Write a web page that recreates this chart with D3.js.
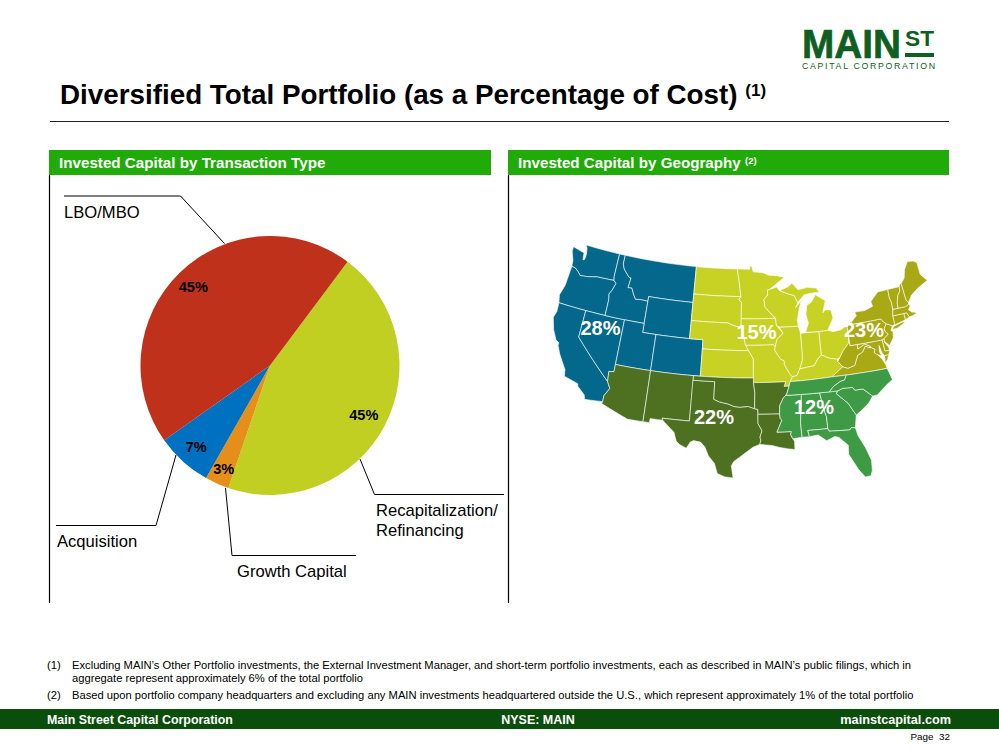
<!DOCTYPE html>
<html>
<head>
<meta charset="utf-8">
<script src="https://d3js.org/d3.v7.min.js"></script>
<style>
  body { margin: 0; background: #fff; }
  text { font-family: "Liberation Sans", Arial, sans-serif; }
</style>
</head>
<body>
<svg id="slide" width="999" height="750"></svg>
<script>
// pie data, clockwise from the red/yellow boundary
var txTypes = ["Recapitalization/Refinancing", "Growth Capital", "Acquisition", "LBO/MBO"];
var txValues = [45, 3, 7, 45];
var txColors = ["#c1cf22", "#e58e1a", "#0070c0", "#bf311a"];

// map data
var geoRegions = ["West", "Midwest", "Northeast", "Southwest", "Southeast"];
var geoValues = [28, 15, 23, 22, 12];
var geoColors = ["#04688c", "#c8d224", "#a8a914", "#4d7120", "#3f9a45"];

// state outlines, [lon, lat]
var westStates = [
  [[-124.7,48.4],[-123.2,48.15],[-122.75,48.1],[-122.6,47.3],[-122.35,47.4],[-122.3,48.0],[-122.5,48.7],[-122.8,49],[-117.03,49],[-117.04,46.4],[-116.92,45.99],[-119,45.93],[-119.6,45.92],[-121.2,45.65],[-122.3,45.55],[-122.8,45.9],[-123.4,46.2],[-124,46.25],[-124.1,46.9],[-124.7,47.9]],
  [[-124,46.25],[-123.4,46.2],[-122.8,45.9],[-122.3,45.55],[-121.2,45.65],[-119.6,45.92],[-119,45.93],[-116.92,45.99],[-116.5,45.7],[-116.85,44.9],[-117.2,44.4],[-117.03,43.8],[-117.03,42],[-124.2,42],[-124.5,42.85],[-124.1,44]],
  [[-124.2,42],[-120,42],[-120,39],[-114.63,35],[-114.14,34.3],[-114.72,33.4],[-114.72,32.72],[-117.12,32.53],[-117.3,33],[-118.4,33.75],[-118.5,34.03],[-120.5,34.45],[-120.65,35.15],[-121.9,36.6],[-122.5,37.5],[-122.5,37.8],[-123,38],[-123.75,39],[-124.35,40.3],[-124.1,41]],
  [[-120,42],[-114.04,42],[-114.04,36.2],[-114.74,36.1],[-114.63,35],[-120,39]],
  [[-117.03,49],[-116.05,49],[-116.05,48],[-115.7,47.45],[-114.7,46.7],[-114.35,46.65],[-114.5,45.55],[-113.9,45.6],[-113.45,44.95],[-113,44.45],[-112,44.53],[-111.05,44.48],[-111.05,42],[-117.03,42],[-117.03,43.8],[-117.2,44.4],[-116.85,44.9],[-116.5,45.7],[-116.92,45.99],[-117.04,46.4]],
  [[-116.05,49],[-104.05,49],[-104.05,45],[-111.05,45],[-111.05,44.48],[-112,44.53],[-113,44.45],[-113.45,44.95],[-113.9,45.6],[-114.5,45.55],[-114.35,46.65],[-114.7,46.7],[-115.7,47.45],[-116.05,48]],
  [[-111.05,45],[-104.05,45],[-104.05,41],[-111.05,41]],
  [[-114.04,42],[-111.05,42],[-111.05,41],[-109.05,41],[-109.05,37],[-114.04,37]],
  [[-109.05,41],[-102.05,41],[-102.05,37],[-109.05,37]]
];
var midwestStates = [
  [[-104.05,49],[-97.23,49],[-96.85,47.5],[-96.56,45.94],[-104.05,45.94]],
  [[-104.05,45.94],[-96.56,45.94],[-96.85,45.6],[-96.45,45.3],[-96.45,42.49],[-97.9,42.8],[-98.5,43],[-104.05,43]],
  [[-104.05,43],[-98.5,43],[-97.9,42.8],[-96.45,42.49],[-96.1,41.7],[-95.9,41],[-95.31,40],[-102.05,40],[-102.05,41],[-104.05,41]],
  [[-102.05,40],[-95.31,40],[-94.62,39.1],[-94.62,37],[-102.05,37]],
  [[-97.23,49],[-95.15,49],[-95.15,49.38],[-94.8,49.3],[-94.6,48.7],[-93,48.6],[-92,48.3],[-90.8,48.2],[-89.5,48],[-92,46.7],[-92.3,46.65],[-92.3,46.1],[-92.9,45.6],[-92.75,44.75],[-91.2,43.5],[-96.45,43.5],[-96.45,45.3],[-96.85,45.6],[-96.56,45.94],[-96.85,47.5]],
  [[-96.45,43.5],[-91.2,43.5],[-91.1,42.7],[-90.15,41.8],[-91.1,41.2],[-91.4,40.4],[-91.7,40.6],[-95.77,40.58],[-95.9,41],[-96.1,41.7],[-96.45,42.49]],
  [[-95.77,40.58],[-91.7,40.6],[-91.4,40.4],[-91.5,40],[-90.7,39],[-90.2,38.8],[-90.2,38.4],[-89.5,37.3],[-89.15,37],[-89.5,36.5],[-89.7,36],[-90.38,35.99],[-90.15,36.5],[-94.62,36.5],[-94.62,39.1],[-95.31,40]],
  [[-92.3,46.65],[-92,46.7],[-90.8,46.95],[-90.4,46.55],[-89.1,46.13],[-88.1,45.9],[-87.8,45.35],[-87.6,45.1],[-88,44.55],[-87.05,45.25],[-87.5,44.3],[-87.9,43.1],[-87.8,42.49],[-90.64,42.5],[-91.1,42.7],[-91.2,43.5],[-92.75,44.75],[-92.9,45.6],[-92.3,46.1]],
  [[-90.64,42.5],[-87.8,42.49],[-87.55,41.7],[-87.53,39.35],[-87.6,38.7],[-88.05,37.8],[-88.5,37.1],[-89.15,37],[-89.5,37.3],[-90.2,38.4],[-90.2,38.8],[-90.7,39],[-91.5,40],[-91.4,40.4],[-91.1,41.2],[-90.15,41.8]],
  [[-87.53,41.7],[-84.8,41.7],[-84.8,39.1],[-85.4,38.7],[-86,38],[-86.8,37.95],[-88.05,37.8],[-87.6,38.7],[-87.53,39.35]],
  [[-84.8,41.7],[-83.45,41.72],[-82.7,41.5],[-81.5,41.6],[-80.52,41.98],[-80.52,40.64],[-80.7,40],[-81.7,39.2],[-82.2,38.6],[-82.6,38.45],[-83.7,38.65],[-84.8,39.1]],
  [[-86.8,41.76],[-84.8,41.7],[-83.45,41.72],[-83.1,42.2],[-82.45,43],[-82.6,43.9],[-83.4,44],[-83.9,43.7],[-83.3,45],[-84.75,45.78],[-85.5,45],[-86.25,44.7],[-86.5,43.7],[-86.25,42.7]],
  [[-90.4,46.55],[-89.1,46.13],[-88.1,45.9],[-87.6,45.1],[-86.5,45.9],[-85,46],[-84.1,46],[-84.5,46.5],[-85.9,46.68],[-87.4,46.5],[-88.4,47.35],[-88,47.45],[-89,46.9]],
  [[-89.5,36.5],[-88.07,36.5],[-83.68,36.6],[-81.97,37.54],[-82.6,38.2],[-82.6,38.45],[-83.7,38.65],[-84.8,39.1],[-85.4,38.7],[-86,38],[-86.8,37.95],[-88.05,37.8],[-88.5,37.1],[-89.15,37]]
];
var northeastStates = [
  [[-83.68,36.6],[-81.68,36.59],[-75.9,36.55],[-76,37],[-76.3,37.6],[-76.9,38.3],[-77.25,38.5],[-77.05,38.85],[-77.5,39.1],[-77.8,39.15],[-78.35,39.4],[-78.9,38.8],[-79.65,38.55],[-80.3,37.5],[-81.3,37.3],[-81.97,37.54]],
  [[-75.25,38.03],[-75.9,37.95],[-76,37.2],[-75.6,37.5]],
  [[-81.97,37.54],[-81.3,37.3],[-80.3,37.5],[-79.65,38.55],[-78.9,38.8],[-78.35,39.4],[-77.8,39.15],[-77.7,39.32],[-78.4,39.63],[-79.48,39.21],[-79.48,39.72],[-80.52,39.72],[-80.52,40.64],[-80.7,40],[-81.7,39.2],[-82.2,38.6],[-82.6,38.2]],
  [[-79.48,39.72],[-75.79,39.72],[-75.7,38.46],[-75.05,38.45],[-75.25,38.03],[-75.9,37.95],[-76.2,38.4],[-76.4,39.2],[-76.5,38.5],[-76.3,38],[-77,38.3],[-77.25,38.5],[-77.05,38.85],[-77.5,39.1],[-77.7,39.32],[-78.4,39.63],[-79.48,39.21]],
  [[-75.79,39.72],[-75.45,39.82],[-75.55,39.45],[-75.1,38.8],[-75.05,38.45],[-75.7,38.46]],
  [[-80.52,41.98],[-79.76,42.27],[-79.76,42],[-75.35,42],[-75.05,41.6],[-74.7,41.36],[-75.15,40.9],[-75.1,40.55],[-74.75,40.2],[-75.45,39.82],[-75.79,39.72],[-80.52,39.72]],
  [[-74.7,41.36],[-73.9,41],[-74.25,40.5],[-74,40.4],[-74.1,39.75],[-74.9,38.95],[-75.5,39.5],[-75.45,39.82],[-74.75,40.2],[-75.1,40.55],[-75.15,40.9]],
  [[-79.76,42.27],[-78.9,42.85],[-79.05,43.27],[-77.5,43.25],[-76.2,43.55],[-76.3,44.1],[-75,44.98],[-73.35,45.01],[-73.4,44],[-73.25,43.6],[-73.28,42.74],[-73.5,42.05],[-73.49,41.2],[-73.65,41],[-73.9,41],[-74.7,41.36],[-75.05,41.6],[-75.35,42],[-79.76,42]],
  [[-74,40.6],[-73.7,40.9],[-72.3,41.15],[-71.9,41.05],[-73.3,40.62]],
  [[-73.5,42.05],[-71.8,42.02],[-71.8,41.32],[-73.65,41],[-73.49,41.2]],
  [[-71.8,42.02],[-71.38,42.02],[-71.12,41.5],[-71.8,41.32]],
  [[-73.28,42.74],[-71.3,42.7],[-70.8,42.87],[-70.6,42.65],[-71,42.3],[-70.6,41.95],[-70,41.8],[-70.2,42.05],[-69.95,41.7],[-70.6,41.55],[-71.12,41.5],[-71.38,42.02],[-71.8,42.02],[-73.5,42.05]],
  [[-73.35,45.01],[-71.5,45.01],[-71.6,44.5],[-72.05,44.1],[-72.4,43.3],[-72.46,42.73],[-73.28,42.74],[-73.25,43.6],[-73.4,44]],
  [[-71.5,45.01],[-71.3,45.3],[-71.08,45.3],[-70.98,43.4],[-70.7,43.07],[-70.8,42.87],[-71.3,42.7],[-72.46,42.73],[-72.4,43.3],[-72.05,44.1],[-71.6,44.5]],
  [[-71.08,45.3],[-70.4,45.8],[-70,46.7],[-69.23,47.46],[-68.3,47.36],[-67.79,47.07],[-67.8,45.7],[-67,44.85],[-68.8,44.3],[-70,43.75],[-70.7,43.07],[-70.98,43.4]]
];
var southwestStates = [
  [[-114.04,37],[-109.05,37],[-109.05,31.33],[-111.07,31.33],[-114.81,32.5],[-114.72,32.72],[-114.72,33.4],[-114.14,34.3],[-114.63,35],[-114.74,36.1],[-114.04,36.2]],
  [[-109.05,37],[-103,37],[-103.04,32],[-106.62,32],[-106.53,31.78],[-108.2,31.78],[-108.2,31.33],[-109.05,31.33]],
  [[-103.04,36.5],[-100,36.5],[-100,34.56],[-99.2,34.3],[-98.1,34.13],[-97.2,33.85],[-96.5,33.8],[-95.3,33.88],[-94.48,33.64],[-94.04,33.55],[-94.04,32],[-93.53,31.2],[-93.8,30.5],[-93.7,30.1],[-93.85,29.7],[-94.7,29.4],[-95.9,28.6],[-97.1,27.8],[-97.4,27.3],[-97.15,25.96],[-98.2,26.05],[-99.1,26.4],[-99.5,27.5],[-100.3,28.3],[-100.8,29.25],[-101.4,29.77],[-102.3,29.88],[-102.7,29.7],[-103.15,28.98],[-104,29.3],[-104.5,29.65],[-104.9,30.6],[-106,31.4],[-106.53,31.78],[-106.62,32],[-103.04,32]],
  [[-103,37],[-94.62,37],[-94.62,36.5],[-94.43,35.4],[-94.48,33.64],[-95.3,33.88],[-96.5,33.8],[-97.2,33.85],[-98.1,34.13],[-99.2,34.3],[-100,34.56],[-100,36.5],[-103,36.5]],
  [[-94.62,36.5],[-90.15,36.5],[-90.38,35.99],[-89.7,36],[-90.1,35.1],[-90.6,34.7],[-91.1,33.9],[-91.17,33],[-94.04,33.02],[-94.04,33.55],[-94.48,33.64],[-94.43,35.4]],
  [[-94.04,33.02],[-91.17,33],[-91.1,32.5],[-90.9,32.3],[-91.6,31],[-89.73,31],[-89.85,30.67],[-89.6,30.2],[-89.4,29.9],[-89.4,29],[-90.2,29.1],[-91.3,29.3],[-92.3,29.55],[-93.85,29.7],[-93.7,30.1],[-93.8,30.5],[-93.53,31.2],[-94.04,32]]
];
var southeastStates = [
  [[-90.1,35.1],[-90.3,35],[-88.2,35],[-88.1,34.9],[-88.47,31.9],[-88.4,30.3],[-89.6,30.2],[-89.85,30.67],[-89.73,31],[-91.6,31],[-90.9,32.3],[-91.1,32.5],[-91.17,33],[-91.1,33.9],[-90.6,34.7]],
  [[-88.2,35],[-85.6,35],[-85.18,32.87],[-85,32.3],[-85,31],[-87.6,31],[-87.45,30.3],[-88.4,30.3],[-88.47,31.9],[-88.1,34.9]],
  [[-85.6,35],[-83.1,35],[-83.35,34.7],[-82.75,34.2],[-81.95,33.5],[-81.4,32.6],[-81.1,32.1],[-81.45,30.72],[-81.95,30.8],[-82.2,30.57],[-84.86,30.7],[-85,31],[-85,32.3],[-85.18,32.87]],
  [[-87.6,31],[-85,31],[-84.86,30.7],[-82.2,30.57],[-81.95,30.8],[-81.45,30.72],[-81.25,29.8],[-80.55,28.4],[-80.05,26.9],[-80.15,25.75],[-80.4,25.2],[-81.1,25.15],[-81.8,26.1],[-82.2,26.9],[-82.75,27.9],[-82.65,28.9],[-83.7,29.9],[-84.2,30.05],[-85.3,29.68],[-86.3,30.4],[-87.45,30.3]],
  [[-83.35,34.7],[-83.1,35],[-82.4,35.2],[-81.05,35.15],[-80.8,34.82],[-79.67,34.8],[-78.55,33.86],[-79.2,33.2],[-80.5,32.4],[-81.1,32.1],[-81.4,32.6],[-81.95,33.5],[-82.75,34.2]],
  [[-84.32,34.99],[-83.1,35],[-82.4,35.2],[-81.05,35.15],[-80.8,34.82],[-79.67,34.8],[-78.55,33.86],[-77.9,33.9],[-76.6,34.7],[-75.5,35.25],[-75.9,36.55],[-81.68,36.59],[-82,36.1],[-82.6,36],[-83.6,35.55]],
  [[-90.3,35],[-88.2,35],[-85.6,35],[-84.32,34.99],[-83.6,35.55],[-82.6,36],[-82,36.1],[-81.68,36.59],[-83.68,36.6],[-88.07,36.5],[-89.5,36.5],[-89.7,36],[-90.1,35.1]]
];
var regionStates = [westStates, midwestStates, northeastStates, southwestStates, southeastStates];

var footnotes = [
  ["(1)", "Excluding MAIN\u2019s Other Portfolio investments, the External Investment Manager, and short-term portfolio investments, each as described in MAIN\u2019s public filings, which in"],
  ["", "aggregate represent approximately 6% of the total portfolio"],
  ["(2)", "Based upon portfolio company headquarters and excluding any MAIN investments headquartered outside the U.S., which represent approximately 1% of the total portfolio"]
];

var svg = d3.select("#slide");

function addText(x, y, str, size, opts) {
  opts = opts || {};
  return svg.append("text")
    .attr("x", x).attr("y", y)
    .attr("font-size", size)
    .attr("font-weight", opts.bold ? "bold" : null)
    .attr("fill", opts.fill || "#000")
    .attr("text-anchor", opts.anchor || "start")
    .text(str);
}

// logo
var logoGreen = "#0f5f22";
addText(802, 57.5, "MAIN", 40, {bold: true, fill: logoGreen}).attr("textLength", 99).attr("lengthAdjust", "spacingAndGlyphs").attr("stroke", logoGreen).attr("stroke-width", 0.7);
addText(905, 46, "ST", 22, {bold: true, fill: logoGreen}).attr("textLength", 29).attr("lengthAdjust", "spacingAndGlyphs");
svg.append("rect").attr("x", 905).attr("y", 53).attr("width", 29).attr("height", 4).attr("fill", logoGreen);
addText(802, 68.5, "CAPITAL CORPORATION", 8.8, {fill: logoGreen}).attr("textLength", 133);

// title
var title = addText(60, 104, "Diversified Total Portfolio (as a Percentage of Cost) ", 27.8, {bold: true});
title.append("tspan").attr("font-size", 17).attr("dy", -8).text("(1)");
svg.append("line").attr("x1", 50).attr("x2", 949).attr("y1", 121.5).attr("y2", 121.5).attr("stroke", "#222").attr("stroke-width", 1);

// panel headers
svg.append("rect").attr("x", 49).attr("y", 150).attr("width", 442).attr("height", 25).attr("fill", "#20ab08");
svg.append("rect").attr("x", 508).attr("y", 150).attr("width", 441).attr("height", 25).attr("fill", "#20ab08");
addText(59, 168, "Invested Capital by Transaction Type", 15.2, {bold: true, fill: "#fff"});
addText(518, 168, "Invested Capital by Geography ", 15.2, {bold: true, fill: "#fff"})
  .append("tspan").attr("font-size", 9.5).attr("dy", -4).text("(2)");

// panel rules
[49.5, 508.5].forEach(function(x) {
  svg.append("line").attr("x1", x).attr("x2", x).attr("y1", 175).attr("y2", 603).attr("stroke", "#000").attr("stroke-width", 1.2);
});

// pie
var pieCx = 270, pieCy = 365.5, pieR = 129.5;
var startDeg = 36.8;
var pie = d3.pie().sort(null)
  .startAngle(startDeg * Math.PI / 180)
  .endAngle((startDeg + 360) * Math.PI / 180);
var arc = d3.arc().innerRadius(0).outerRadius(pieR);
var pieG = svg.append("g").attr("transform", "translate(" + pieCx + "," + pieCy + ")");
var arcs = pie(txValues);
pieG.selectAll("path").data(arcs).enter().append("path")
  .attr("d", arc)
  .attr("fill", function(d, i) { return txColors[i]; });

var labelRadius = [106, 113, 110, 110];
pieG.selectAll("text").data(arcs).enter().append("text")
  .attr("transform", function(d, i) {
    var c = d3.arc().innerRadius(labelRadius[i]).outerRadius(labelRadius[i]).centroid(d);
    return "translate(" + c + ")";
  })
  .attr("dy", "0.36em")
  .attr("text-anchor", "middle")
  .attr("font-size", 14.5)
  .attr("font-weight", "bold")
  .text(function(d) { return d.value + "%"; });

// leader lines and slice names
var leaders = [
  [[64, 196], [180.5, 196], [224.5, 243.5]],
  [[360, 459], [374.5, 494.5], [504, 494.5]],
  [[225.5, 488], [232, 555.5], [356, 555.5]],
  [[176, 455], [156, 525.5], [56, 525.5]]
];
var leaderLine = d3.line();
leaders.forEach(function(pts) {
  svg.append("path").attr("d", leaderLine(pts)).attr("fill", "none").attr("stroke", "#000").attr("stroke-width", 1);
});
addText(64, 218, txTypes[3], 16.6);
addText(376, 516, "Recapitalization/", 16.6);
addText(376, 536, "Refinancing", 16.6);
addText(237, 577, txTypes[1], 16.6);
addText(57, 547, txTypes[2], 16.6);

// map
var projection = d3.geoAlbers().rotate([95, 0]).scale(518).translate([746.5, 362.5]);
var geoPath = d3.geoPath(projection);

// long straight borders have to follow the parallels, so break them up
function densify(ring) {
  var out = [];
  ring.forEach(function(p, i) {
    var q = ring[(i + 1) % ring.length];
    var n = Math.ceil(Math.max(Math.abs(q[0] - p[0]), Math.abs(q[1] - p[1])));
    for (var k = 0; k < Math.max(n, 1); k++) {
      out.push([p[0] + (q[0] - p[0]) * k / Math.max(n, 1), p[1] + (q[1] - p[1]) * k / Math.max(n, 1)]);
    }
  });
  out.push(out[0]);
  return out;
}

function stateFeature(ring) {
  var r = densify(ring);
  var f = {type: "Polygon", coordinates: [r]};
  if (d3.geoArea(f) > 2 * Math.PI) f.coordinates = [r.slice().reverse()];
  return f;
}

var mapG = svg.append("g");
regionStates.forEach(function(states, i) {
  mapG.append("g").attr("class", geoRegions[i])
    .selectAll("path").data(states.map(stateFeature)).enter().append("path")
    .attr("d", geoPath)
    .attr("fill", geoColors[i])
    .attr("stroke", "#fff")
    .attr("stroke-width", 0.6)
    .attr("stroke-linejoin", "round");
});

var geoLabelPos = [[600.5, 328], [756.5, 332], [864, 330], [714, 417], [814, 407]];
geoValues.forEach(function(v, i) {
  addText(geoLabelPos[i][0], geoLabelPos[i][1], v + "%", 20, {bold: true, fill: "#fff", anchor: "middle"}).attr("dy", "0.36em");
});

// footnotes
var noteY = [669, 682, 699];
footnotes.forEach(function(f, i) {
  if (f[0]) addText(47, noteY[i], f[0], 11.2);
  addText(72, noteY[i], f[1], 11.2);
});

// footer
svg.append("rect").attr("x", 0).attr("y", 709).attr("width", 999).attr("height", 20).attr("fill", "#0b4d0b");
addText(47, 724, "Main Street Capital Corporation", 12.4, {bold: true, fill: "#fff"});
addText(538, 724, "NYSE: MAIN", 12.5, {bold: true, fill: "#fff", anchor: "middle"});
addText(951, 724, "mainstcapital.com", 12.7, {bold: true, fill: "#fff", anchor: "end"});
addText(950, 740, "Page\u00a0 32", 9.9, {anchor: "end"});
</script>
</body>
</html>
